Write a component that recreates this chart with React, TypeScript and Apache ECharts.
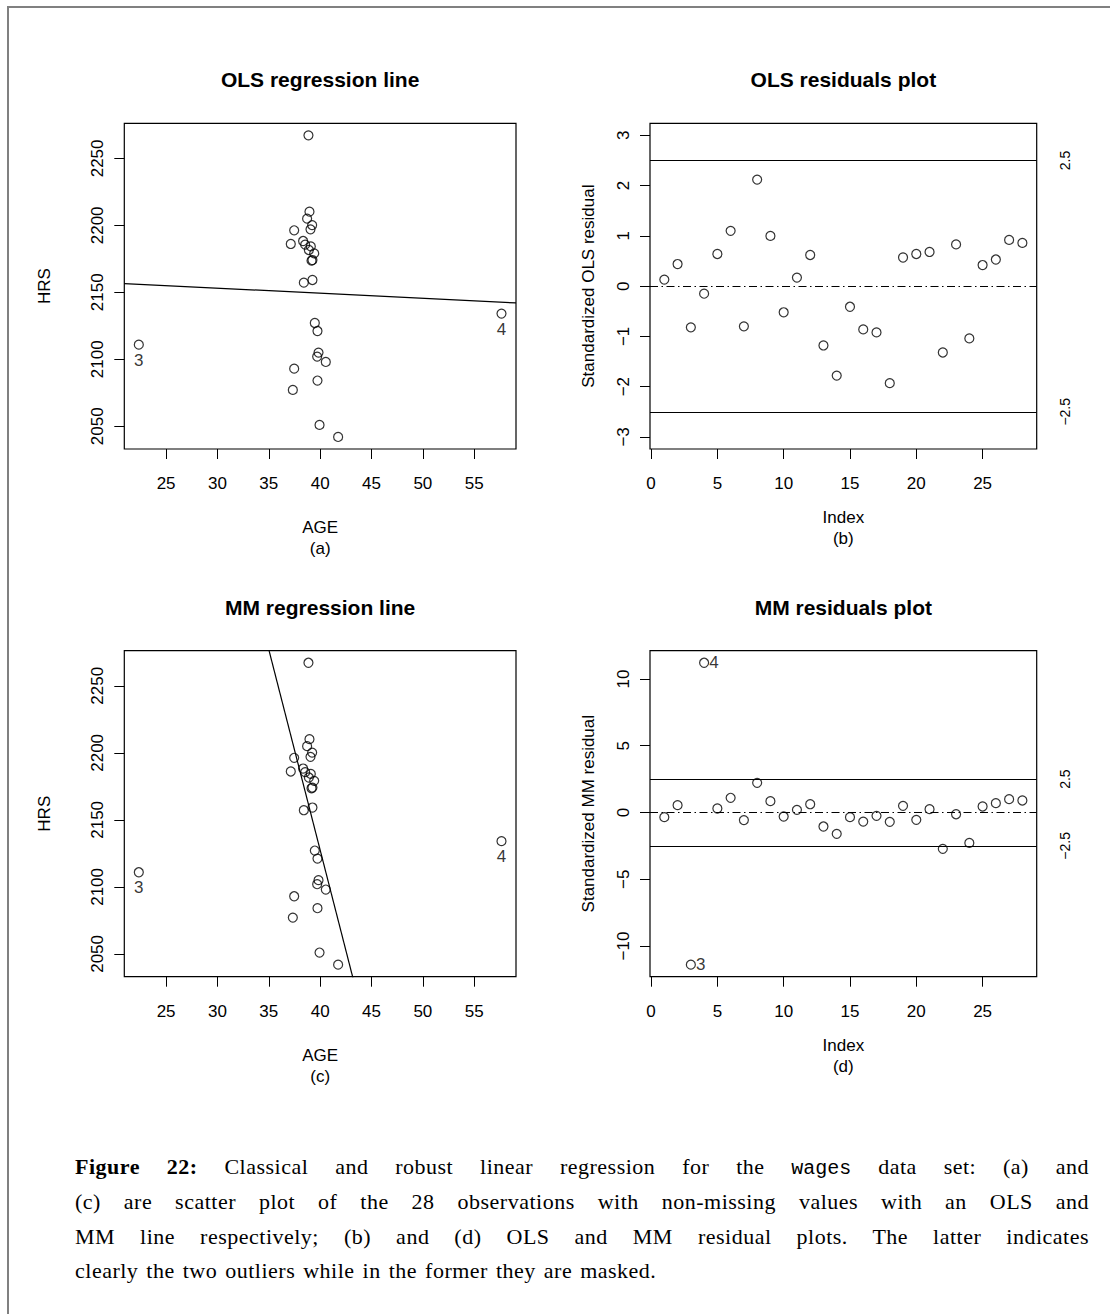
import React, { useEffect, useRef } from "react";
import * as echarts from "echarts";

// ---- data ----
const OBS_ID = [1, 2, 3, 4, 5, 6, 7, 8, 9, 10, 11, 12, 13, 14, 15, 16, 17, 18, 19, 20, 21, 22, 23, 24, 25, 26, 27, 28];
const AGE = [38.86, 38.96, 22.34, 57.66, 38.73, 39.22, 39.06, 37.47, 38.34, 37.14, 38.54, 39.09, 38.9, 39.42,
  39.16, 39.25, 39.25, 38.41, 39.48, 39.74, 39.84, 39.71, 40.55, 37.47, 39.74, 37.34, 39.94, 41.75];
const HRS = [2267.2, 2210.2, 2110.9, 2134.1, 2205.0, 2200.2, 2197.0, 2196.3, 2188.3, 2186.1, 2185.6, 2184.3, 2181.6, 2179.1,
  2173.6, 2174.1, 2159.2, 2157.2, 2127.1, 2121.1, 2105.0, 2102.0, 2098.0, 2093.0, 2084.1, 2077.1, 2051.0, 2042.0];
const OLS_RESID = [0.13, 0.44, -0.82, -0.15, 0.64, 1.1, -0.8, 2.12, 1.0, -0.52, 0.17, 0.62, -1.18, -1.78,
  -0.41, -0.86, -0.92, -1.93, 0.57, 0.64, 0.68, -1.32, 0.83, -1.04, 0.42, 0.53, 0.92, 0.86];
const MM_RESID = [-0.35, 0.55, -11.39, 11.21, 0.3, 1.1, -0.57, 2.22, 0.85, -0.3, 0.2, 0.62, -1.05, -1.6,
  -0.35, -0.68, -0.25, -0.7, 0.5, -0.55, 0.25, -2.72, -0.13, -2.28, 0.45, 0.7, 1.0, 0.9];
const OUTLIERS = [3, 4];
const OLS_COEF = [2164.5, -0.38];
const MM_COEF = [3323.5, -29.9];
const CUTOFFS = [2.5, -2.5];
const AGE_TICKS = [25, 30, 35, 40, 45, 50, 55];
const HRS_TICKS = [2050, 2100, 2150, 2200, 2250];
const INDEX_TICKS = [0, 5, 10, 15, 20, 25];
const OLS_RES_TICKS = [-3, -2, -1, 0, 1, 2, 3];
const OLS_RES_RANGE = [-3, 3];
const MM_RES_TICKS = [-10, -5, 0, 5, 10];
const TITLES = ["OLS regression line", "OLS residuals plot", "MM regression line", "MM residuals plot"];
const X_NAMES = ["AGE\n(a)", "Index\n(b)", "AGE\n(c)", "Index\n(d)"];
const Y_NAMES = ["HRS", "Standardized OLS residual", "HRS", "Standardized MM residual"];

const FONT = '"Liberation Sans", Arial, Helvetica, sans-serif';

const pad = (lo: number, hi: number) => {
  const d = (hi - lo) * 0.04;
  return [lo - d, hi + d];
};
const minus = (v: number) => String(v).replace("-", "\u2212");

const GRIDS = [
  { left: 124.3, top: 123.3, width: 391.7, height: 325.7 },
  { left: 650, top: 123.3, width: 386.7, height: 325.7 },
  { left: 124.3, top: 650.7, width: 391.7, height: 326 },
  { left: 650, top: 650.7, width: 386.7, height: 326 },
];

function buildOption() {
  const ageLim = pad(Math.min(...AGE), Math.max(...AGE));
  const hrsLim = pad(Math.min(...HRS), Math.max(...HRS));
  const idxLim = pad(1, OBS_ID.length);
  const olsLim = pad(OLS_RES_RANGE[0], OLS_RES_RANGE[1]);
  const mmLim = pad(Math.min(...MM_RESID), Math.max(...MM_RESID));

  const xLims = [ageLim, idxLim, ageLim, idxLim];
  const yLims = [hrsLim, olsLim, hrsLim, mmLim];
  const xTicks = [AGE_TICKS, INDEX_TICKS, AGE_TICKS, INDEX_TICKS];
  const yTicks = [HRS_TICKS, OLS_RES_TICKS, HRS_TICKS, MM_RES_TICKS];
  const xNameGap = [68, 58, 68, 58];
  const yNameGap = [71, 53, 71, 53];

  const xAxis = GRIDS.map((_, i) => ({
    type: "value",
    gridIndex: i,
    min: xLims[i][0],
    max: xLims[i][1],
    name: X_NAMES[i],
    nameLocation: "middle",
    nameGap: xNameGap[i],
    nameTextStyle: { color: "#000", fontSize: 17, lineHeight: 21, fontFamily: FONT },
    axisLine: { show: false, onZero: false },
    splitLine: { show: false },
    axisTick: { show: true, length: 10, lineStyle: { color: "#000", width: 1 }, customValues: xTicks[i] },
    axisLabel: { color: "#000", fontSize: 17, fontFamily: FONT, margin: 26, customValues: xTicks[i], formatter: minus },
  }));

  const yAxis: any[] = GRIDS.map((_, i) => ({
    type: "value",
    gridIndex: i,
    min: yLims[i][0],
    max: yLims[i][1],
    name: Y_NAMES[i],
    nameLocation: "middle",
    nameGap: yNameGap[i],
    nameTextStyle: { color: "#000", fontSize: 17, fontFamily: FONT },
    axisLine: { show: false, onZero: false },
    splitLine: { show: false },
    axisTick: { show: true, length: 10, lineStyle: { color: "#000", width: 1 }, customValues: yTicks[i] },
    axisLabel: { color: "#000", fontSize: 17, fontFamily: FONT, rotate: 90, margin: 18, customValues: yTicks[i], formatter: minus },
  }));
  [1, 3].forEach((g) => {
    yAxis.push({
      type: "value",
      gridIndex: g,
      position: "right",
      min: yLims[g][0],
      max: yLims[g][1],
      axisLine: { show: false, onZero: false },
      splitLine: { show: false },
      axisTick: { show: false },
      axisLabel: { color: "#000", fontSize: 14, fontFamily: FONT, rotate: 90, margin: 21, customValues: CUTOFFS, formatter: minus },
    });
  });

  const ring = { color: "rgba(0,0,0,0)", borderColor: "#000", borderWidth: 1.2 };

  const scatterData = (xs: number[], ys: number[], pos: string | null) =>
    xs.map((x, i) =>
      pos && OUTLIERS.includes(OBS_ID[i])
        ? {
            value: [x, ys[i]],
            label: {
              show: true,
              position: pos,
              distance: pos === "bottom" ? 2 : 0,
              formatter: String(OBS_ID[i]),
              color: "#000",
              fontSize: 17,
              fontFamily: FONT,
            },
          }
        : { value: [x, ys[i]] }
    );

  const lineData = (coef: number[]) => [
    [ageLim[0], coef[0] + coef[1] * ageLim[0]],
    [ageLim[1], coef[0] + coef[1] * ageLim[1]],
  ];

  const refLines = {
    symbol: ["none", "none"],
    silent: true,
    label: { show: false },
    lineStyle: { color: "#000", width: 1.2, type: "solid" },
    data: [
      ...CUTOFFS.map((c) => ({ yAxis: c })),
      { yAxis: 0, lineStyle: { color: "#000", width: 1.1, type: [8, 3.5, 1.5, 3.5] } },
    ],
  };

  const sc = (xi: number, yi: number, data: any[], markLine?: any) => ({
    type: "scatter",
    xAxisIndex: xi,
    yAxisIndex: yi,
    symbol: "circle",
    symbolSize: 9,
    itemStyle: ring,
    data,
    silent: true,
    ...(markLine ? { markLine } : {}),
  });

  const ln = (gi: number, coef: number[]) => ({
    type: "line",
    xAxisIndex: gi,
    yAxisIndex: gi,
    data: lineData(coef),
    showSymbol: false,
    symbol: "none",
    clip: true,
    silent: true,
    lineStyle: { color: "#000", width: 1.2 },
  });

  const series = [
    sc(0, 0, scatterData(AGE, HRS, "bottom")),
    ln(0, OLS_COEF),
    sc(1, 1, scatterData(OBS_ID, OLS_RESID, null), refLines),
    sc(2, 2, scatterData(AGE, HRS, "bottom")),
    ln(2, MM_COEF),
    sc(3, 3, scatterData(OBS_ID, MM_RESID, "right"), refLines),
  ];

  const graphic = GRIDS.map((g, i) => ({
    type: "text",
    x: g.left + g.width / 2,
    y: g.top - 43.5,
    style: {
      text: TITLES[i],
      fontSize: 21,
      fontWeight: "bold",
      fontFamily: FONT,
      fill: "#000",
      textAlign: "center",
      textVerticalAlign: "middle",
    },
  }));

  return {
    animation: false,
    backgroundColor: "#fff",
    textStyle: { fontFamily: FONT },
    grid: GRIDS.map((g) => ({ ...g, show: true, borderColor: "#000", borderWidth: 1.2, backgroundColor: "transparent" })),
    xAxis,
    yAxis,
    series,
    graphic,
  };
}

const CAPTION_LINES: any[] = [
  [
    <b key="b">Figure 22:</b>,
    " Classical and robust linear regression for the ",
    <span key="m" style={{ fontFamily: '"Liberation Mono", "DejaVu Sans Mono", monospace', fontSize: 20, letterSpacing: 0 }}>wages</span>,
    " data set: (a) and",
  ],
  ["(c) are scatter plot of the 28 observations with non-missing values with an OLS and"],
  ["MM line respectively; (b) and (d) OLS and MM residual plots. The latter indicates"],
  ["clearly the two outliers while in the former they are masked."],
];
const CAPTION_TOPS = [1150, 1185, 1220, 1254];

export default function App() {
  const ref = useRef<HTMLDivElement>(null);
  useEffect(() => {
    if (!ref.current) return;
    const chart = echarts.init(ref.current, undefined, { renderer: "svg" });
    chart.setOption(buildOption() as any);
    return () => chart.dispose();
  }, []);

  return (
    <div style={{ position: "absolute", left: 0, top: 0, width: 1110, height: 1314, overflow: "hidden", background: "#fff" }}>
      <div ref={ref} style={{ position: "absolute", left: 0, top: 0, width: 1110, height: 1120 }} />
      <div
        style={{
          position: "absolute",
          left: 7,
          top: 5.5,
          width: 1120,
          height: 1320,
          borderTop: "2px solid #808080",
          borderLeft: "2px solid #808080",
          pointerEvents: "none",
        }}
      />
      {CAPTION_LINES.map((parts, i) => (
        <div
          key={i}
          style={{
            position: "absolute",
            left: 75,
            top: CAPTION_TOPS[i],
            width: 1014,
            fontFamily: '"Liberation Serif", "DejaVu Serif", serif',
            fontSize: 22,
            letterSpacing: 0.5,
            wordSpacing: 2,
            lineHeight: "34px",
            color: "#000",
            whiteSpace: "nowrap",
            textAlign: i < 3 ? "justify" : "left",
            textAlignLast: i < 3 ? "justify" : "left",
          }}
        >
          {parts}
        </div>
      ))}
    </div>
  );
}
